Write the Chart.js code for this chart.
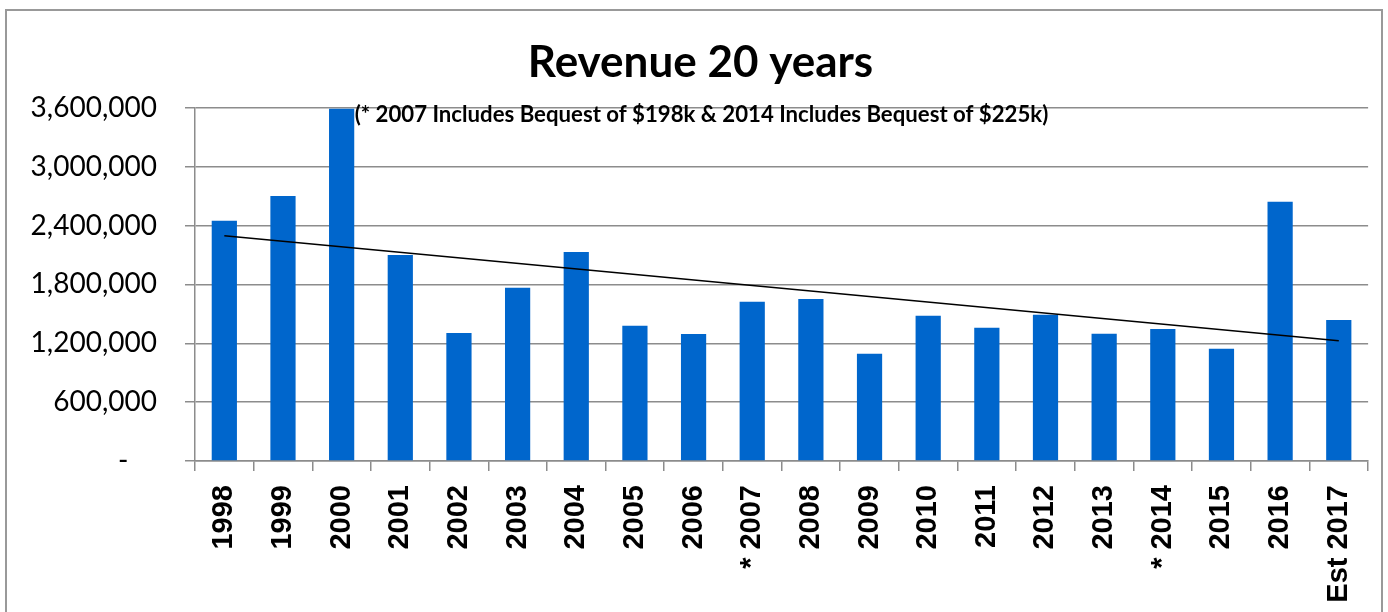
<!DOCTYPE html>
<html>
<head>
<meta charset="utf-8">
<script src="https://cdn.jsdelivr.net/npm/chart.js@4"></script>
<style>
  html, body { margin: 0; padding: 0; background: #fff; }
  #wrap { width: 1388px; height: 612px; }
</style>
</head>
<body>
<div id="wrap"><canvas id="chart" width="1388" height="612"></canvas></div>
<script>
// Datos
const years = ['1998', '1999', '2000', '2001', '2002', '2003', '2004', '2005', '2006', '* 2007',
  '2008', '2009', '2010', '2011', '2012', '2013', '* 2014', '2015', '2016', 'Est 2017'];
const revenue = [2450000, 2700000, 3590000, 2100000, 1305000, 1765000, 2130000, 1378000, 1295000, 1622000,
  1652000, 1092000, 1480000, 1357000, 1490000, 1296000, 1346000, 1143000, 2642000, 1438000];
// línea de tendencia: sólo los extremos
const trend = [2297000, null, null, null, null, null, null, null, null, null,
  null, null, null, null, null, null, null, null, null, 1225000];
const yTicks = [0, 600000, 1200000, 1800000, 2400000, 3000000, 3600000];
const chartTitle = 'Revenue 20 years';
const note = '(* 2007 Includes Bequest of $198k & 2014 Includes Bequest of $225k)';

const gray = '#8c8c8c';

// borde exterior y nota
const extras = {
  id: 'extras',
  beforeDraw(chart) {
    const ctx = chart.ctx;
    ctx.save();
    ctx.fillStyle = '#fff';
    ctx.fillRect(0, 0, chart.width, chart.height);
    ctx.strokeStyle = '#999';
    ctx.lineWidth = 2;
    ctx.strokeRect(6, 10, 1376, 640);
    ctx.restore();
  },
  afterDraw(chart) {
    const ctx = chart.ctx;
    const x = chart.scales.x.getPixelForValue(2) + 13;
    const y = chart.scales.y.getPixelForValue(3600000) + 7;
    ctx.save();
    ctx.font = 'bold 22.2px Lato';
    ctx.fillStyle = '#000';
    ctx.textAlign = 'left';
    ctx.textBaseline = 'middle';
    ctx.fillText(note, x, y);
    ctx.restore();
  }
};

new Chart(document.getElementById('chart'), {
  type: 'bar',
  data: {
    labels: years,
    datasets: [
      {
        type: 'line',
        data: trend,
        spanGaps: true,
        borderColor: '#000',
        borderWidth: 1.5,
        pointRadius: 0,
        order: 0
      },
      {
        data: revenue,
        backgroundColor: '#0066cc',
        categoryPercentage: 1,
        barPercentage: 0.43,
        order: 1
      }
    ]
  },
  options: {
    responsive: false,
    animation: false,
    layout: { padding: { left: 30, right: 17, top: 0, bottom: 0 } },
    plugins: {
      legend: { display: false },
      tooltip: { enabled: false },
      title: {
        display: true,
        text: chartTitle,
        color: '#000',
        font: { family: 'Lato', size: 44, weight: 'bold', lineHeight: 1.2 },
        padding: { top: 36, bottom: 19 }
      }
    },
    scales: {
      x: {
        offset: true,
        grid: { display: true, drawOnChartArea: false, offset: true, color: gray, tickLength: 10, lineWidth: 1.5 },
        border: { color: gray, width: 1.5 },
        ticks: {
          color: '#000',
          font: { family: 'Liberation Sans', size: 29, weight: 'bold' },
          minRotation: 90,
          maxRotation: 90,
          padding: 14,
          autoSkip: false
        },
        afterFit(scale) { scale.height = 151; }
      },
      y: {
        min: 0,
        max: 3600000,
        grid: { color: gray, tickLength: 10, lineWidth: 1.5 },
        border: { color: gray, width: 1.5 },
        afterBuildTicks(scale) { scale.ticks = yTicks.map(v => ({ value: v })); },
        ticks: {
          color: '#000',
          font: { family: 'Lato', size: 28 },
          padding: 28,
          callback: v => v === 0 ? '-    ' : v.toLocaleString('en-US')
        },
        afterFit(scale) { scale.width = 165; }
      }
    }
  },
  plugins: [extras]
});
</script>
</body>
</html>
